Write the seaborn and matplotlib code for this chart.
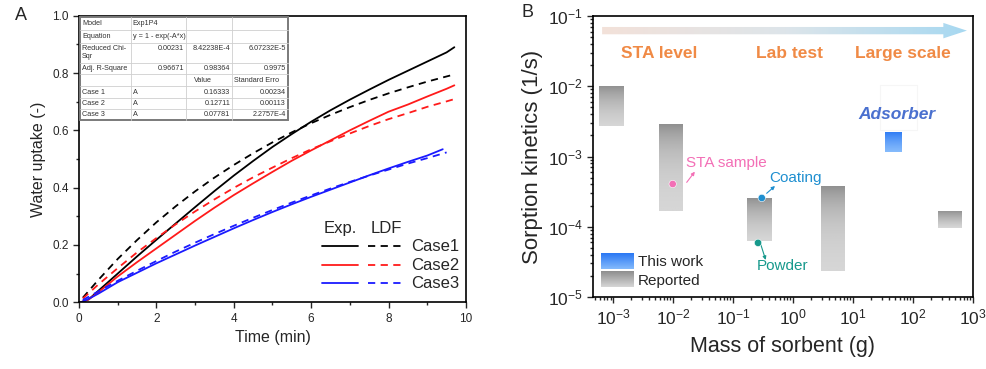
import numpy as np
import pandas as pd
import matplotlib
matplotlib.use("Agg")
import matplotlib.pyplot as plt
import seaborn as sns
from matplotlib.patches import Rectangle, FancyArrow
from matplotlib.ticker import MultipleLocator, LogLocator, NullFormatter
from matplotlib.colors import LinearSegmentedColormap

sns.set_style("ticks")
plt.rcParams["font.family"] = ["Liberation Sans", "DejaVu Sans"]
plt.rcParams["mathtext.fontset"] = "custom"
plt.rcParams["mathtext.rm"] = "Liberation Sans"
plt.rcParams["mathtext.it"] = "Liberation Sans:italic"
plt.rcParams["mathtext.bf"] = "Liberation Sans:bold"

# ---------------- Panel A data ----------------
t_exp = [0.05, 0.25, 0.5, 1.0, 1.5, 2.0, 2.5, 3.0, 3.5, 4.0, 4.5, 5.0, 5.5, 6.0,
         6.5, 7.0, 7.5, 8.0, 8.5, 9.0, 9.5, 9.7]
exp_case1 = [0.0, 0.01, 0.04, 0.10, 0.16, 0.218, 0.275, 0.332, 0.388, 0.442, 0.493,
             0.542, 0.587, 0.630, 0.670, 0.707, 0.742, 0.776, 0.808, 0.840, 0.872, 0.890]
exp_case2 = [0.0, 0.01, 0.035, 0.09, 0.14, 0.188, 0.236, 0.284, 0.330, 0.374, 0.415,
             0.455, 0.494, 0.530, 0.565, 0.600, 0.633, 0.665, 0.690, 0.718, 0.745, 0.757]
t_exp3 = [0.05, 0.25, 0.5, 1.0, 1.5, 2.0, 2.5, 3.0, 3.5, 4.0, 4.5, 5.0, 5.5, 6.0,
          6.5, 7.0, 7.5, 8.0, 8.5, 9.0, 9.4]
exp_case3 = [0.0, 0.012, 0.03, 0.07, 0.103, 0.136, 0.167, 0.198, 0.228, 0.258, 0.287,
             0.315, 0.342, 0.368, 0.393, 0.418, 0.443, 0.467, 0.490, 0.512, 0.534]

t_ldf = [0.1, 0.5, 1.0, 1.5, 2.0, 2.5, 3.0, 3.5, 4.0, 4.5, 5.0, 5.5, 6.0, 6.5, 7.0,
         7.5, 8.0, 8.5, 9.0, 9.5, 9.7]
ldf_case1 = [0.016, 0.078, 0.151, 0.217, 0.279, 0.335, 0.387, 0.435, 0.479, 0.520,
             0.558, 0.593, 0.625, 0.654, 0.681, 0.706, 0.729, 0.750, 0.770, 0.788, 0.795]
ldf_case2 = [0.013, 0.062, 0.119, 0.174, 0.224, 0.272, 0.317, 0.359, 0.399, 0.436,
             0.470, 0.503, 0.534, 0.562, 0.589, 0.615, 0.639, 0.660, 0.682, 0.701, 0.709]
t_ldf3 = [0.1, 0.5, 1.0, 1.5, 2.0, 2.5, 3.0, 3.5, 4.0, 4.5, 5.0, 5.5, 6.0, 6.5, 7.0,
          7.5, 8.0, 8.5, 9.0, 9.5]
ldf_case3 = [0.008, 0.038, 0.075, 0.110, 0.144, 0.177, 0.208, 0.238, 0.267, 0.295,
             0.322, 0.348, 0.373, 0.397, 0.420, 0.442, 0.463, 0.484, 0.503, 0.523]

case_names = ["Case1", "Case2", "Case3"]
case_colors = ["#000000", "#ff1a1a", "#1a1aff"]

table_rows = [
    ["Model", "Exp1P4", "", ""],
    ["Equation", "y = 1 - exp(-A*x)", "", ""],
    ["Reduced Chi-\nSqr", "0.00231", "8.42238E-4", "6.07232E-5"],
    ["Adj. R-Square", "0.96671", "0.98364", "0.9975"],
    ["", "", "Value", "Standard Erro"],
    ["Case 1", "A", "0.16333", "0.00234"],
    ["Case 2", "A", "0.12711", "0.00113"],
    ["Case 3", "A", "0.07781", "2.2757E-4"],
]

# ---------------- Panel B data ----------------
rep_x0 = [5.8e-4, 5.9e-3, 0.171, 2.93, 257]
rep_x1 = [1.55e-3, 1.5e-2, 0.46, 7.55, 660]
rep_y0 = [2.7e-3, 1.67e-4, 6.3e-5, 2.37e-5, 9.6e-5]
rep_y1 = [1.02e-2, 2.9e-3, 2.65e-4, 3.9e-4, 1.71e-4]
tw_x0, tw_x1 = 34.0, 67.0
tw_y0, tw_y1 = 1.17e-3, 2.3e-3
pt_labels = ["STA sample", "Coating", "Powder"]
pt_mass = [0.0098, 0.30, 0.26]
pt_kin = [4.06e-4, 2.57e-4, 5.9e-5]
pt_colors = ["#f36fb6", "#1f8fd0", "#17998c"]
stage_labels = ["STA level", "Lab test", "Large scale"]

# ---------------- Figure ----------------
fig = plt.figure(figsize=(9.87, 3.69), dpi=100)
axA = fig.add_axes([0.0800, 0.1808, 0.3921, 0.7767])
axB = fig.add_axes([0.6008, 0.1951, 0.3850, 0.7615])

# ---- Panel A ----
rows = []
for name, t, v in [("Case1", t_exp, exp_case1), ("Case2", t_exp, exp_case2), ("Case3", t_exp3, exp_case3)]:
    for ti, vi in zip(t, v):
        rows.append((ti, vi, name, "Exp."))
for name, t, v in [("Case1", t_ldf, ldf_case1), ("Case2", t_ldf, ldf_case2), ("Case3", t_ldf3, ldf_case3)]:
    for ti, vi in zip(t, v):
        rows.append((ti, vi, name, "LDF"))
dfA = pd.DataFrame(rows, columns=["time", "uptake", "case", "kind"])
sns.lineplot(data=dfA, x="time", y="uptake", hue="case", style="kind",
             palette=dict(zip(case_names, case_colors)),
             dashes={"Exp.": "", "LDF": (4, 3)}, estimator=None, lw=1.3,
             legend=False, ax=axA)
axA.set_xlim(0, 10)
axA.set_ylim(0, 1.0)
axA.xaxis.set_major_locator(MultipleLocator(2))
axA.xaxis.set_minor_locator(MultipleLocator(1))
axA.yaxis.set_major_locator(MultipleLocator(0.2))
axA.yaxis.set_minor_locator(MultipleLocator(0.1))
axA.yaxis.set_major_formatter(matplotlib.ticker.FormatStrFormatter("%.1f"))
axA.set_xlabel("Time (min)", fontsize=11.5, labelpad=4)
axA.set_ylabel("Water uptake (-)", fontsize=11.5, labelpad=4)
axA.tick_params(which="both", direction="out", labelsize=8.5, width=1.0, top=False, right=False)
axA.tick_params(which="major", length=4)
axA.tick_params(which="minor", length=2.5)
for s in axA.spines.values():
    s.set_linewidth(1.2)
    s.set_color("black")

# custom legend
tA = axA.transAxes
axA.text(0.676, 0.259, "Exp.", transform=tA, ha="center", va="center", fontsize=12)
axA.text(0.793, 0.259, "LDF", transform=tA, ha="center", va="center", fontsize=12)
for yy, name, col in zip([0.196, 0.130, 0.067], case_names, case_colors):
    axA.plot([0.627, 0.720], [yy, yy], transform=tA, color=col, lw=1.3)
    axA.plot([0.747, 0.840], [yy, yy], transform=tA, color=col, lw=1.3, dashes=(4, 3))
    axA.text(0.858, yy, name, transform=tA, ha="left", va="center", fontsize=12)

# table
def ax_x(px):
    return (px - 79) / 387.0
def ax_y(py):
    return (302.3 - py) / 286.6
col_edges = [80.5, 131.3, 186.3, 232.3, 288.0]
row_edges = [16.7, 29.7, 43.0, 62.7, 74.3, 86.3, 98.0, 109.0, 120.0]
axA.add_patch(Rectangle((ax_x(col_edges[0]), ax_y(row_edges[-1])),
                        ax_x(col_edges[-1]) - ax_x(col_edges[0]),
                        ax_y(row_edges[0]) - ax_y(row_edges[-1]),
                        transform=tA, facecolor="white", edgecolor="#7a7a7a", lw=1.4, zorder=5))
for xe in col_edges[1:-1]:
    axA.plot([ax_x(xe)] * 2, [ax_y(row_edges[0]), ax_y(row_edges[-1])], transform=tA,
             color="#cfcfcf", lw=0.6, zorder=6)
for ye in row_edges[1:-1]:
    axA.plot([ax_x(col_edges[0]), ax_x(col_edges[-1])], [ax_y(ye)] * 2, transform=tA,
             color="#cfcfcf", lw=0.6, zorder=6)
for i, row in enumerate(table_rows):
    yc = ax_y((row_edges[i] + row_edges[i + 1]) / 2)
    for j, txt in enumerate(row):
        if not txt:
            continue
        if j == 0:
            if "\n" in txt:
                a, b = txt.split("\n")
                axA.text(ax_x(col_edges[0] + 1.5), ax_y(row_edges[i] + 5.5), a, transform=tA,
                         fontsize=5.2, ha="left", va="center", color="#333333", zorder=7)
                axA.text(ax_x(col_edges[0] + 1.5), ax_y(row_edges[i] + 14), b, transform=tA,
                         fontsize=5.2, ha="left", va="center", color="#333333", zorder=7)
            else:
                axA.text(ax_x(col_edges[0] + 1.5), yc, txt, transform=tA, fontsize=5.2,
                         ha="left", va="center", color="#333333", zorder=7)
            continue
        yy = ax_y(row_edges[i] + 5.5) if i == 2 else yc
        if txt in ("Exp1P4", "y = 1 - exp(-A*x)", "A"):
            axA.text(ax_x(col_edges[1] + 1.5), yy, txt, transform=tA, fontsize=5.2,
                     ha="left", va="center", color="#333333", zorder=7)
        elif txt == "Value":
            axA.text(ax_x(194), yy, txt, transform=tA, fontsize=5.2,
                     ha="left", va="center", color="#333333", zorder=7)
        elif txt == "Standard Erro":
            axA.text(ax_x(col_edges[3] + 1.5), yy, txt, transform=tA, fontsize=5.2,
                     ha="left", va="center", color="#333333", zorder=7)
        else:
            axA.text(ax_x(col_edges[j + 1] - 2), yy, txt, transform=tA, fontsize=5.2,
                     ha="right", va="center", color="#333333", zorder=7)

# ---- Panel B ----
axB.set_xscale("log")
axB.set_yscale("log")
gray_cmap = LinearSegmentedColormap.from_list("g", ["#d6d6d6", "#8e8e8e"])
blue_cmap = LinearSegmentedColormap.from_list("b", ["#84bafc", "#2a78f4"])
grad = np.linspace(0, 1, 64).reshape(-1, 1)
for x0, x1, y0, y1 in zip(rep_x0, rep_x1, rep_y0, rep_y1):
    axB.imshow(grad, extent=[x0, x1, y0, y1], origin="lower", cmap=gray_cmap,
               aspect="auto", interpolation="bilinear", zorder=2)
axB.imshow(grad, extent=[tw_x0, tw_x1, tw_y0, tw_y1], origin="lower", cmap=blue_cmap,
           aspect="auto", interpolation="bilinear", zorder=2)

sns.scatterplot(x=pt_mass, y=pt_kin, hue=pt_labels, palette=dict(zip(pt_labels, pt_colors)),
                s=28, edgecolor="white", linewidth=0.4, legend=False, ax=axB, zorder=4)

tB = axB.transAxes
# gradient arrow
arrow = FancyArrow(0.024, 0.948, 0.96, 0.0, width=0.026, head_width=0.055,
                   head_length=0.062, length_includes_head=True, transform=tB,
                   facecolor="none", edgecolor="none")
axB.add_patch(arrow)
arrow_cmap = LinearSegmentedColormap.from_list("a", ["#f3e1d9", "#dde5ea", "#a6d8f1"])
im = axB.imshow(np.linspace(0, 1, 256).reshape(1, -1), extent=[0.02, 0.99, 0.915, 0.98],
                transform=tB, cmap=arrow_cmap, aspect="auto", interpolation="bilinear", zorder=3)
im.set_clip_path(arrow)

for xx, lab in zip([0.174, 0.518, 0.816], stage_labels):
    axB.text(xx, 0.868, lab, transform=tB, ha="center", va="center", fontsize=12.5,
             fontweight="bold", color="#f08a45")
axB.add_patch(Rectangle((0.755, 0.594), 0.097, 0.160, transform=tB, facecolor="none",
                        edgecolor="#f6f6f6", lw=0.8))
axB.text(0.80, 0.648, "Adsorber", transform=tB, ha="center", va="center", fontsize=12.5,
         fontweight="bold", fontstyle="italic", color="#4a70cf")

# point annotations
ann = [((0.2466, 0.408), (0.268, 0.446), (0.245, 0.477)),
       ((0.457, 0.369), (0.479, 0.395), (0.464, 0.4235)),
       ((0.442, 0.185), (0.4545, 0.132), (0.4316, 0.110))]
for (p0, p1, ptxt), lab, col in zip(ann, pt_labels, pt_colors):
    axB.annotate("", xy=p1, xytext=p0, xycoords=tB, textcoords=tB,
                 arrowprops=dict(arrowstyle="-|>", color=col, lw=0.8, mutation_scale=5,
                                 shrinkA=0, shrinkB=0))
    axB.text(ptxt[0], ptxt[1], lab, transform=tB, ha="left", va="center", fontsize=11, color=col)

# legend patches
axB.imshow(grad, extent=[0.0203, 0.105, 0.0996, 0.153], transform=tB, origin="lower",
           cmap=blue_cmap, aspect="auto", interpolation="bilinear", zorder=3)
axB.imshow(grad, extent=[0.0203, 0.105, 0.0356, 0.089], transform=tB, origin="lower",
           cmap=gray_cmap, aspect="auto", interpolation="bilinear", zorder=3)
axB.text(0.118, 0.1246, "This work", transform=tB, ha="left", va="center", fontsize=11)
axB.text(0.118, 0.057, "Reported", transform=tB, ha="left", va="center", fontsize=11)

axB.set_xlim(10 ** -3.338, 1e3)
axB.set_ylim(1e-5, 1e-1)
axB.xaxis.set_major_locator(LogLocator(base=10, numticks=20))
axB.xaxis.set_minor_locator(LogLocator(base=10, subs=np.arange(2, 10), numticks=20))
axB.yaxis.set_major_locator(LogLocator(base=10, numticks=20))
axB.yaxis.set_minor_locator(LogLocator(base=10, subs=np.arange(2, 10), numticks=20))
axB.xaxis.set_minor_formatter(NullFormatter())
axB.yaxis.set_minor_formatter(NullFormatter())
axB.set_xlabel("Mass of sorbent (g)", fontsize=15.5, labelpad=6)
axB.set_ylabel("Sorption kinetics (1/s)", fontsize=16, labelpad=3)
axB.tick_params(which="both", direction="out", labelsize=12.5, width=1.0, top=False, right=False)
axB.tick_params(which="major", length=4)
axB.tick_params(which="minor", length=2.5)
for s in axB.spines.values():
    s.set_linewidth(1.2)
    s.set_color("black")

fig.text(0.0152, 0.959, "A", fontsize=13, ha="left", va="center")
fig.text(0.5286, 0.965, "B", fontsize=13, ha="left", va="center")

fig.savefig("out.png", dpi=100)
